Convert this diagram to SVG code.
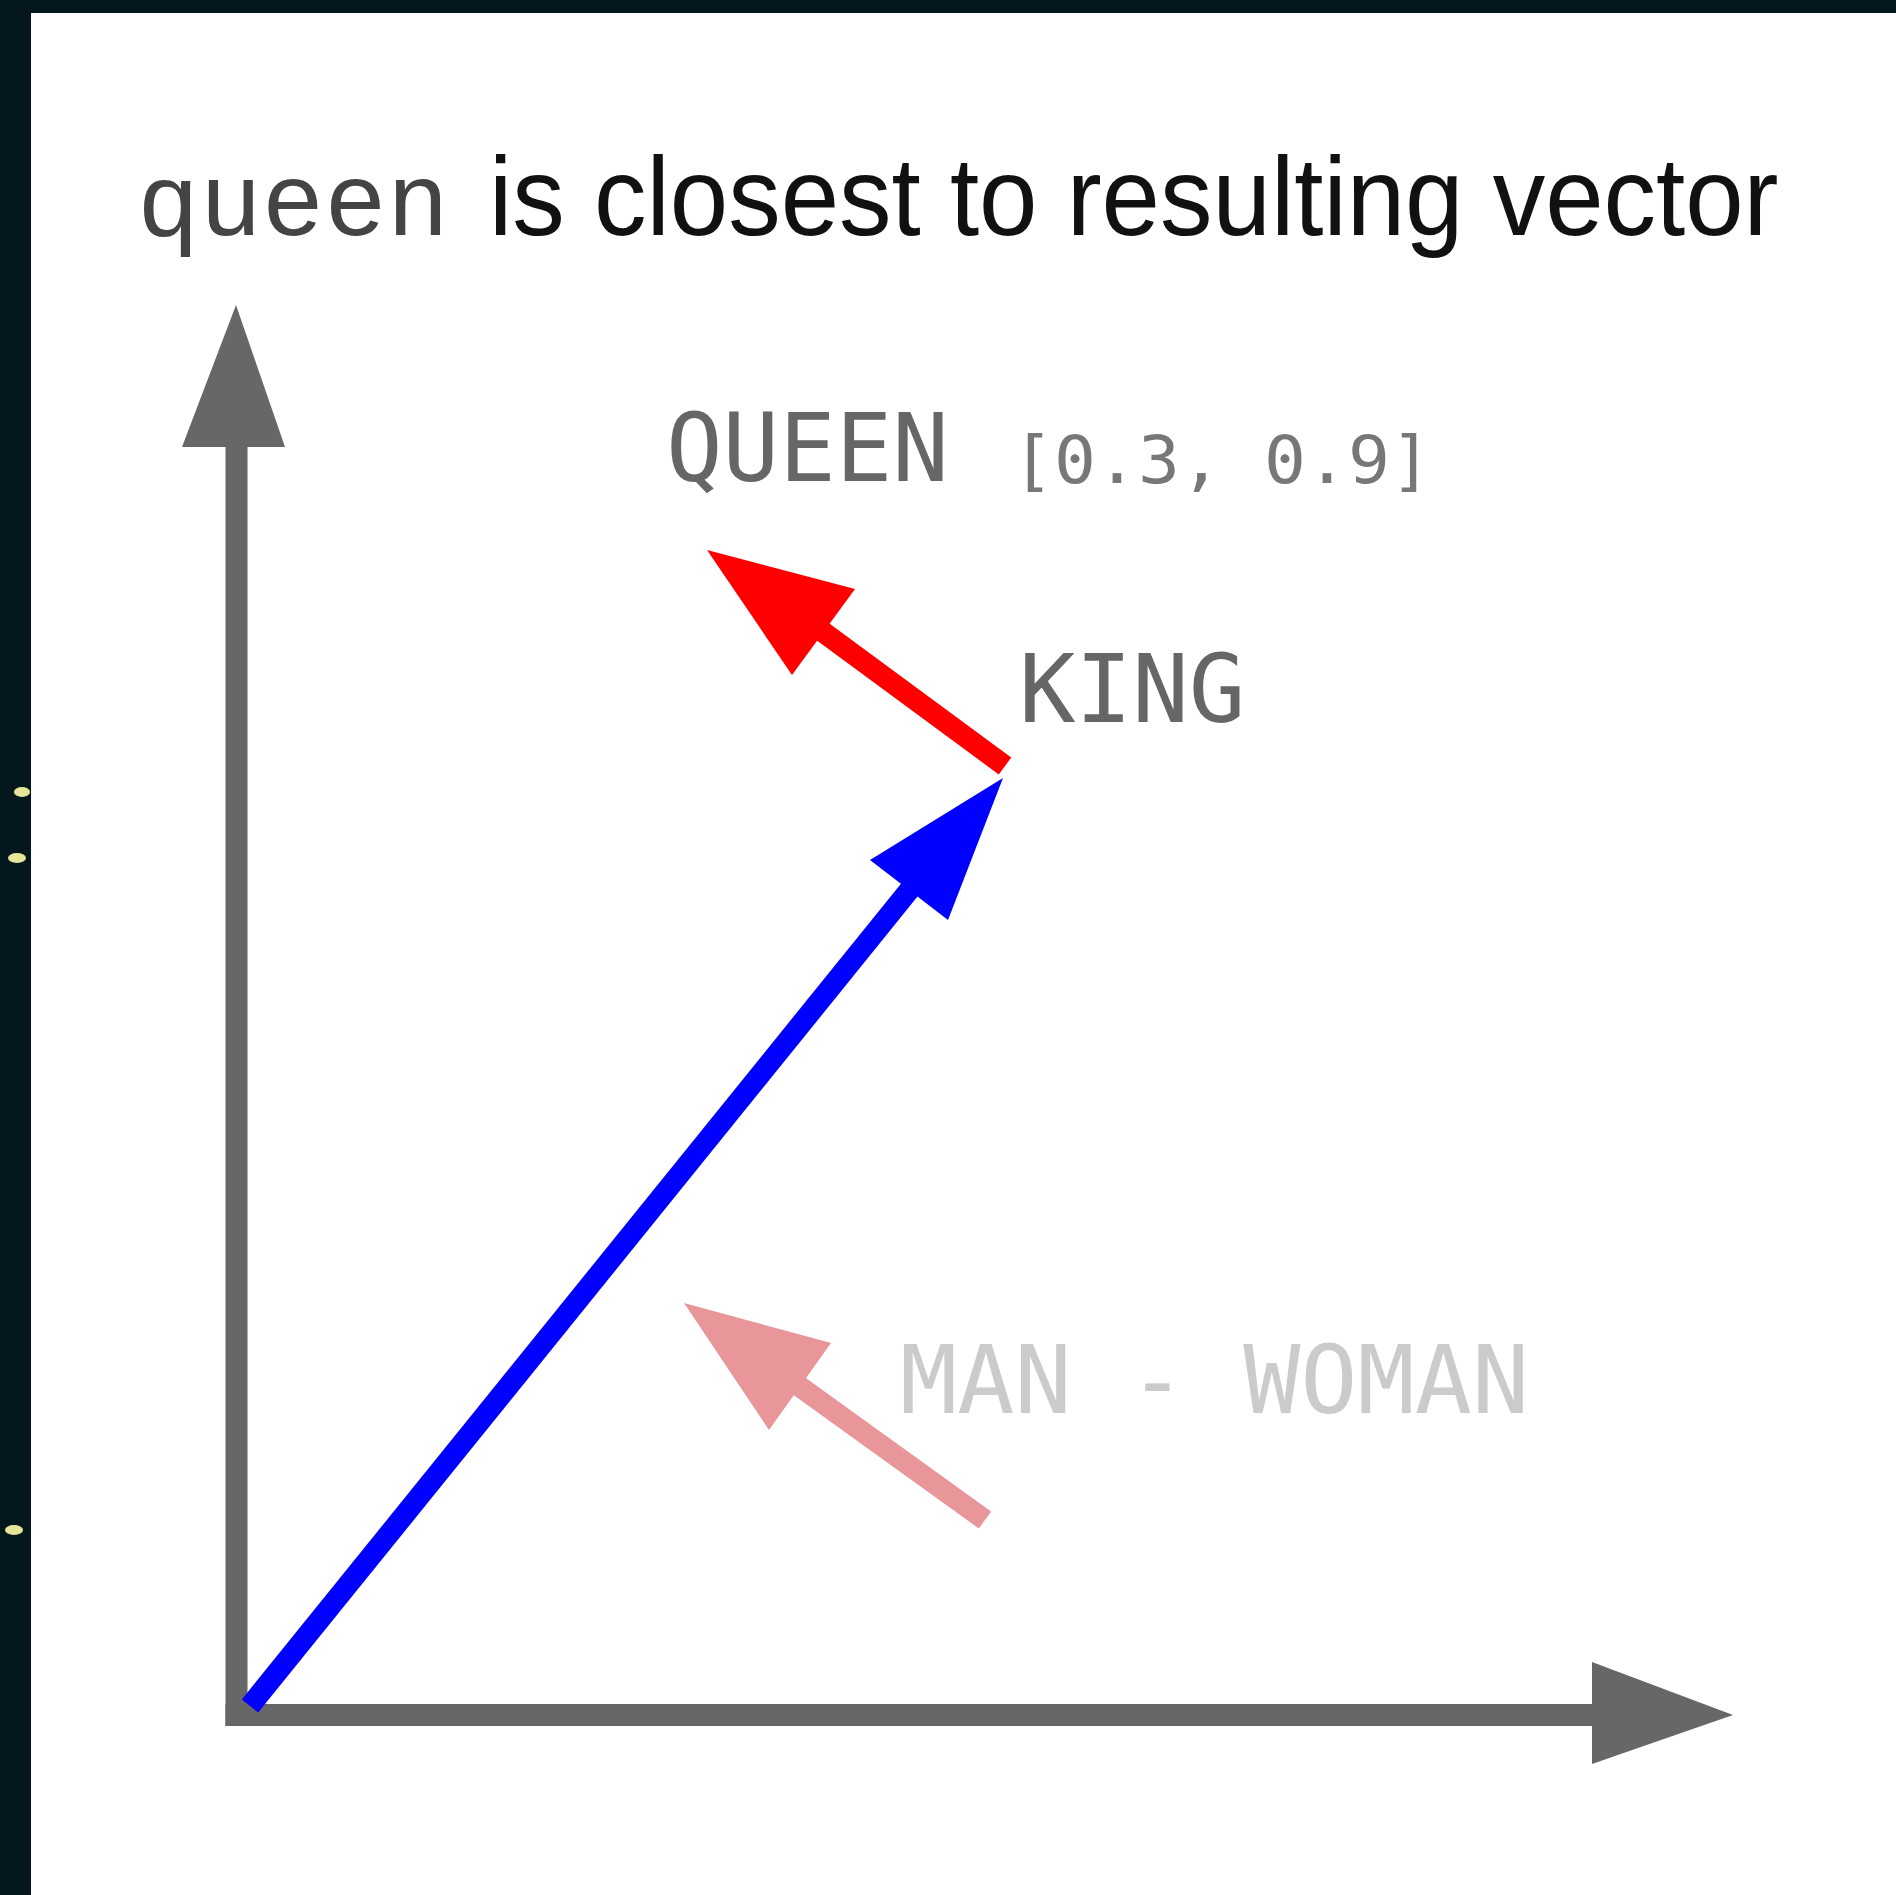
<svg xmlns="http://www.w3.org/2000/svg" width="1896" height="1895" viewBox="0 0 1896 1895">
<style>
.axis{stroke:#676767;stroke-width:22;fill:none}
.axhead{fill:#676767}
.vec{fill:none;stroke-width:21}
.mono{font-family:"DejaVu Sans Mono","Liberation Mono",monospace}
</style>
<rect x="0" y="0" width="1896" height="1895" fill="#04171c"/>
<g id="background-dots" fill="#e6e59a">
<ellipse cx="22" cy="792" rx="8" ry="5"/>
<ellipse cx="17" cy="858" rx="9" ry="5"/>
<ellipse cx="14" cy="1530" rx="9" ry="5"/>
</g>
<rect x="31" y="13" width="1865" height="1882" fill="#ffffff"/>
<g id="title">
<text x="137" y="235" font-family="'Liberation Mono',monospace" font-size="104" fill="#444">queen</text>
<text x="489" y="235" font-family="'Liberation Sans',Arial,sans-serif" font-size="105" fill="#111" transform="translate(0,235) scale(1,1.06) translate(0,-235)">is closest to resulting vector</text>
</g>
<g id="connectors">
<g id="y-axis">
<line class="axis" x1="236.5" y1="1726" x2="236.5" y2="440"/>
<polygon class="axhead" points="182,447 285,447 236,305"/>
</g>
<g id="x-axis">
<line class="axis" x1="225.5" y1="1715" x2="1600" y2="1715"/>
<polygon class="axhead" points="1592,1662 1592,1764 1733,1715"/>
</g>
<g id="vec-king">
<line class="vec" stroke="#0000ff" x1="250" y1="1706" x2="915" y2="883"/>
<polygon fill="#0000ff" points="870,860 948,920 1003,778"/>
</g>
<g id="vec-king-to-queen">
<line class="vec" stroke="#ff0000" x1="1005" y1="766" x2="815" y2="626"/>
<polygon fill="#ff0000" points="855,589 792,675 707,550"/>
</g>
<g id="vec-man-woman">
<line class="vec" stroke="#e8969a" x1="985" y1="1520" x2="792" y2="1381"/>
<polygon fill="#e8969a" points="831,1343 769,1430 684,1303"/>
</g>
</g>
<g id="label-queen" class="mono">
<text x="666" y="481" font-size="94" fill="#666">QUEEN</text>
<text x="1012" y="483" font-size="66" fill="#777" textLength="420" lengthAdjust="spacingAndGlyphs">[0.3, 0.9]</text>
</g>
<g id="label-king" class="mono">
<text x="1019" y="722" font-size="94" fill="#666">KING</text>
</g>
<g id="label-man-woman" class="mono">
<text x="900" y="1413" font-size="95" fill="#cbcbcb">MAN - WOMAN</text>
</g>
</svg>
